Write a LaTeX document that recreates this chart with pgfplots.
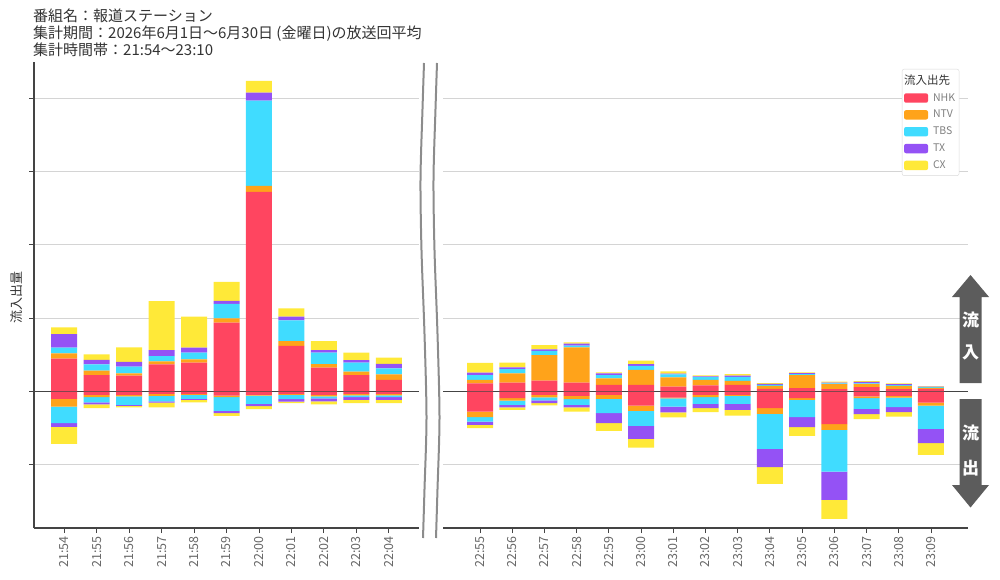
\documentclass[border=0pt]{standalone}
\usepackage{fontspec}
\setmainfont{Noto Sans CJK JP}
\usepackage{pgfplots}
\pgfplotsset{compat=1.18}
\usepackage{pgfplotstable}
\definecolor{cnhk}{RGB}{255,69,96}
\definecolor{cntv}{RGB}{255,163,26}
\definecolor{ctbs}{RGB}{64,220,255}
\definecolor{ctx}{RGB}{148,82,245}
\definecolor{ccx}{RGB}{255,233,56}
\definecolor{arrowgray}{RGB}{92,92,92}
\definecolor{gridc}{RGB}{212,212,212}
\definecolor{spine}{RGB}{68,68,68}

% inflow (positive) and outflow (negative) per minute
\pgfplotstableread{
x nhk ntv tbs tx cx
0 0.447 0.074 0.076 0.187 0.091
1 0.225 0.059 0.087 0.059 0.078
2 0.216 0.033 0.090 0.064 0.200
3 0.371 0.041 0.072 0.082 0.668
4 0.393 0.046 0.090 0.068 0.423
5 0.939 0.060 0.195 0.041 0.259
6 2.722 0.082 1.164 0.109 0.159
7 0.621 0.068 0.282 0.049 0.114
8 0.325 0.050 0.155 0.036 0.123
9 0.225 0.045 0.123 0.036 0.100
10 0.157 0.078 0.082 0.059 0.086
}\LP
\pgfplotstableread{
x nhk ntv tbs tx cx
0 -0.100 -0.105 -0.227 -0.050 -0.232
1 -0.045 -0.030 -0.073 -0.027 -0.050
2 -0.045 -0.023 -0.113 -0.014 -0.023
3 -0.031 -0.027 -0.078 -0.014 -0.068
4 -0.036 -0.010 -0.055 -0.014 -0.032
5 -0.055 -0.023 -0.186 -0.032 -0.036
6 -0.045 -0.010 -0.114 -0.032 -0.041
7 -0.036 -0.010 -0.059 -0.032 -0.023
8 -0.045 -0.020 -0.030 -0.040 -0.040
9 -0.031 -0.023 -0.023 -0.036 -0.045
10 -0.031 -0.023 -0.023 -0.036 -0.045
}\LN
\pgfplotstableread{
x nhk ntv tbs tx cx
0 0.112 0.045 0.068 0.031 0.136
1 0.120 0.128 0.059 0.023 0.063
2 0.147 0.350 0.059 0.019 0.059
3 0.120 0.483 0.022 0.027 0.019
4 0.089 0.091 0.045 0.023 0.014
5 0.089 0.205 0.055 0.023 0.049
6 0.066 0.128 0.041 0.010 0.030
7 0.082 0.078 0.036 0.010 0.014
8 0.091 0.055 0.055 0.014 0.023
9 0.036 0.041 0.014 0.014 0.010
10 0.045 0.177 0.014 0.014 0.010
11 0.032 0.068 0.010 0.010 0.014
12 0.059 0.041 0.010 0.023 0.010
13 0.032 0.045 0.010 0.014 0.010
14 0.036 0.014 0.010 0.005 0.010
}\RP
\pgfplotstableread{
x nhk ntv tbs tx cx
0 -0.273 -0.078 -0.059 -0.045 -0.045
1 -0.091 -0.032 -0.059 -0.036 -0.032
2 -0.045 -0.036 -0.041 -0.036 -0.032
3 -0.059 -0.045 -0.078 -0.036 -0.055
4 -0.045 -0.055 -0.195 -0.136 -0.105
5 -0.191 -0.073 -0.205 -0.177 -0.118
6 -0.082 -0.010 -0.114 -0.078 -0.068
7 -0.045 -0.032 -0.091 -0.059 -0.055
8 -0.045 -0.014 -0.109 -0.082 -0.078
9 -0.227 -0.078 -0.477 -0.250 -0.227
10 -0.091 -0.023 -0.236 -0.136 -0.118
11 -0.446 -0.078 -0.568 -0.386 -0.259
12 -0.068 -0.023 -0.145 -0.073 -0.068
13 -0.059 -0.023 -0.132 -0.068 -0.059
14 -0.150 -0.041 -0.318 -0.195 -0.159
}\RN

\newcommand\tickfont{\fontsize{12.5}{14}\selectfont}
\pgfplotsset{
  common/.style={
    scale only axis, height=466pt, ymin=-1.862, ymax=4.495,
    ybar stacked, bar width=26pt, anchor=south west,
  },
  visible/.style={
    axis x line*=bottom, axis y line*=left,
    axis line style={-, draw=spine, line width=1.2pt},
    ytick={-1,0,1,2,3,4},
    yticklabels={},
    yticklabel style={text opacity=0},
    tick align=outside, major tick length=5pt,
    tick style={draw=spine, line width=0.9pt},
    ymajorgrids, major grid style={draw=gridc, line width=1.1pt},
    xticklabel style={rotate=90, anchor=east, font=\tickfont, text=black!60},
  },
  hidden/.style={axis lines=none, xtick=\empty, ytick=\empty},
  lg/.style={legend image code/.code={\fill[##1] (0pt,-4.7pt) rectangle (24pt,4.7pt);}},
}

\begin{document}
\begin{tikzpicture}[x=1pt,y=1pt]
\path[use as bounding box] (0,0) rectangle (1000,579);

% ---------- left panel ----------
\begin{axis}[common, visible, at={(34pt,51pt)}, width=385pt, xmin=-0.93, xmax=10.93,
  xtick={0,...,10},
  xticklabels={21:54,21:55,21:56,21:57,21:58,21:59,22:00,22:01,22:02,22:03,22:04}]
\addplot[fill=cnhk, draw=none] table[x=x,y=nhk]{\LP};
\addplot[fill=cntv, draw=none] table[x=x,y=ntv]{\LP};
\addplot[fill=ctbs, draw=none] table[x=x,y=tbs]{\LP};
\addplot[fill=ctx, draw=none] table[x=x,y=tx]{\LP};
\addplot[fill=ccx, draw=none] table[x=x,y=cx]{\LP};
\end{axis}
\begin{axis}[common, hidden, at={(34pt,51pt)}, width=385pt, xmin=-0.93, xmax=10.93]
\addplot[fill=cnhk, draw=none] table[x=x,y=nhk]{\LN};
\addplot[fill=cntv, draw=none] table[x=x,y=ntv]{\LN};
\addplot[fill=ctbs, draw=none] table[x=x,y=tbs]{\LN};
\addplot[fill=ctx, draw=none] table[x=x,y=tx]{\LN};
\addplot[fill=ccx, draw=none] table[x=x,y=cx]{\LN};
\draw[spine, line width=1.7pt] (axis cs:-0.93,0) -- (axis cs:10.93,0);
\end{axis}

% ---------- right panel ----------
\begin{axis}[common, visible, at={(443pt,51pt)}, width=525pt, xmin=-1.15, xmax=15.15,
  y axis line style={draw=none}, ytick style={draw=none},
  xtick={0,...,14},
  xticklabels={22:55,22:56,22:57,22:58,22:59,23:00,23:01,23:02,23:03,23:04,23:05,23:06,23:07,23:08,23:09},
  legend style={at={(0.874,0.985)}, anchor=north west, draw=black!15, fill=white,
    rounded corners=2pt, font=\fontsize{10.5}{12}\selectfont, text=black!50,
    row sep=3.6pt, column sep=3pt, inner xsep=2pt, inner ysep=3.5pt},
  legend cell align=left]
\addlegendimage{empty legend}
\addplot[fill=cnhk, draw=none, lg] table[x=x,y=nhk]{\RP};
\addplot[fill=cntv, draw=none, lg] table[x=x,y=ntv]{\RP};
\addplot[fill=ctbs, draw=none, lg] table[x=x,y=tbs]{\RP};
\addplot[fill=ctx, draw=none, lg] table[x=x,y=tx]{\RP};
\addplot[fill=ccx, draw=none, lg] table[x=x,y=cx]{\RP};
\legend{\hspace{-29pt}{\fontsize{11.5}{13}\selectfont\color{black!80}流入出先}, NHK, NTV, TBS, TX, CX}
\end{axis}
\begin{axis}[common, hidden, at={(443pt,51pt)}, width=525pt, xmin=-1.15, xmax=15.15]
\addplot[fill=cnhk, draw=none] table[x=x,y=nhk]{\RN};
\addplot[fill=cntv, draw=none] table[x=x,y=ntv]{\RN};
\addplot[fill=ctbs, draw=none] table[x=x,y=tbs]{\RN};
\addplot[fill=ctx, draw=none] table[x=x,y=tx]{\RN};
\addplot[fill=ccx, draw=none] table[x=x,y=cx]{\RN};
\draw[spine, line width=1.7pt] (axis cs:-1.15,0) -- (axis cs:15.15,0);
\end{axis}

% ---------- axis break ----------
\begin{scope}[xshift=423.5pt]
\draw[black!45, line width=2pt] plot[smooth] coordinates {(0.5,516) (-1,470) (-3,400) (-2,328.5) (1,245) (3,161.5) (1,90) (-0.5,41)};
\end{scope}
\begin{scope}[xshift=436.5pt]
\draw[black!45, line width=2pt] plot[smooth] coordinates {(0.5,516) (-1,470) (-3,400) (-2,328.5) (1,245) (3,161.5) (1,90) (-0.5,41)};
\end{scope}

% ---------- labels ----------
\node[anchor=north west, inner sep=0pt, align=left, text=black!80,
  font=\fontsize{15}{16.6}\selectfont] at (33,570)
  {番組名：報道ステーション\\集計期間：2026年6月1日～6月30日 (金曜日)の放送回平均\\集計時間帯：21:54～23:10};
\node[rotate=90, text=black!80, font=\fontsize{13}{15}\selectfont] at (17,282) {流入出量};

% ---------- in/out arrows ----------
\fill[arrowgray] (970.5,304) -- (989,282) -- (981.5,282) -- (981.5,196) -- (959.5,196) -- (959.5,282) -- (952,282) -- cycle;
\fill[arrowgray] (959.5,180) -- (981.5,180) -- (981.5,94) -- (989,94) -- (970.5,71.5) -- (952,94) -- (959.5,94) -- cycle;
\begin{scope}[every node/.style={text=white, font=\fontsize{17}{17}\selectfont\bfseries}]
\node at (970.5,259) {流};
\node at (970.5,227) {入};
\node at (970.5,146) {流};
\node at (970.5,111) {出};
\end{scope}
\end{tikzpicture}
\end{document}
